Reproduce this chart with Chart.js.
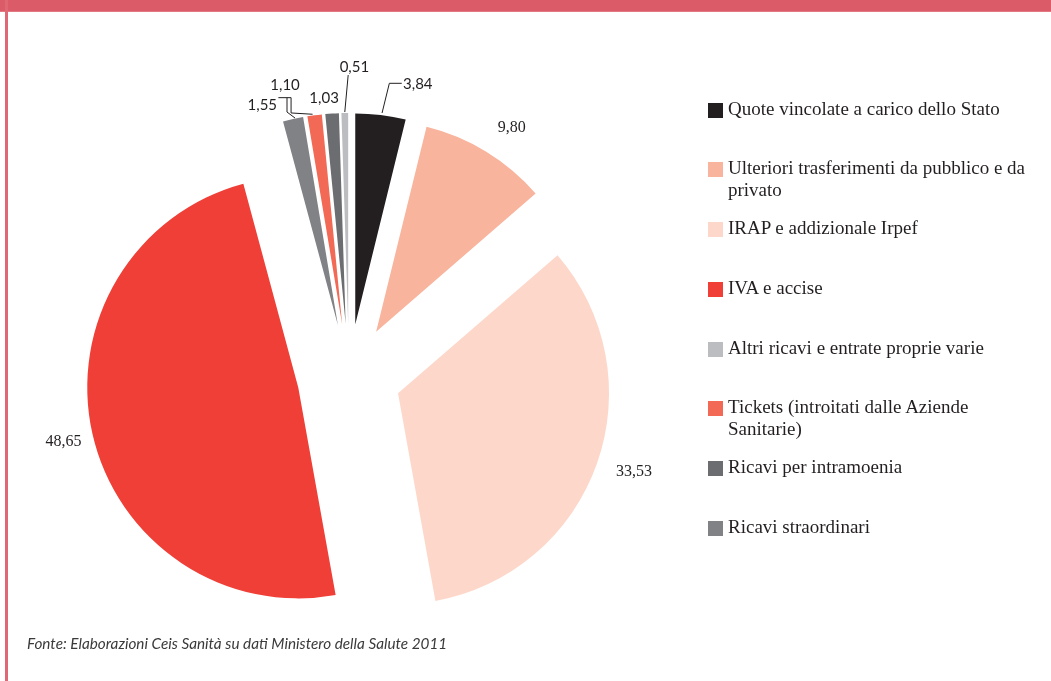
<!DOCTYPE html>
<html lang="it">
<head>
<meta charset="UTF-8">
<title>Composizione delle entrate</title>
<script src="https://cdn.jsdelivr.net/npm/chart.js@4.4.1/dist/chart.umd.min.js"></script>
<style>
    html, body {
        margin: 0;
        padding: 0;
        background: #ffffff;
    }
    #page {
        position: relative;
        width: 1051px;
        height: 681px;
        overflow: hidden;
        background: #ffffff;
    }
    #topBand {
        position: absolute;
        left: 0; top: 0;
        width: 1051px; height: 11px;
        background: #db5b69;
        border-bottom: 1px solid #e27882;
    }
    #leftLine {
        position: absolute;
        left: 5px; top: 0;
        width: 2.5px; height: 681px;
        background: #e06874;
    }
    #chartBox {
        position: absolute;
        left: 0; top: 0;
        width: 1051px; height: 681px;
    }
    #legend {
        position: absolute;
        left: 708px; top: 0;
        font-family: "Liberation Serif", "Times New Roman", serif;
        font-size: 19px;
        line-height: 22px;
        color: #231f20;
    }
    .item {
        position: absolute;
        left: 0;
        width: 330px;
    }
    .item .box {
        position: absolute;
        left: 0; top: 5.1px;
        width: 15px; height: 15px;
    }
    .item .txt {
        position: absolute;
        left: 20px; top: 0;
        width: 310px;
    }
    #source {
        position: absolute;
        left: 27px; top: 635px;
        font-family: Lato, "Open Sans", sans-serif;
        font-style: italic;
        font-size: 15.3px;
        line-height: 16px;
        color: #3a3a3a;
        white-space: nowrap;
    }
</style>
</head>
<body>
<div id="page">
    <div id="chartBox"><canvas id="pieChart"></canvas></div>
    <div id="topBand"></div>
    <div id="leftLine"></div>
    <div id="legend"></div>
    <div id="source">Fonte: Elaborazioni Ceis Sanità su dati Ministero della Salute 2011</div>
</div>

<script>
    // voci (ordine della legenda)
    var categories = [
        'Quote vincolate a carico dello Stato',
        'Ulteriori trasferimenti da pubblico e da privato',
        'IRAP e addizionale Irpef',
        'IVA e accise',
        'Altri ricavi e entrate proprie varie',
        'Tickets (introitati dalle Aziende Sanitarie)',
        'Ricavi per intramoenia',
        'Ricavi straordinari'
    ];
    // valori percentuali
    var values = [3.84, 9.80, 33.53, 48.65, 0.51, 1.10, 1.03, 1.55];
    // ordine delle fette in senso orario a partire dalle ore 12
    var sliceOrder = [0, 1, 2, 3, 7, 5, 6, 4];

    var colors = ['#231f20', '#f8b49c', '#fdd8ca', '#ef3f37', '#bcbdc0', '#f26a55', '#6c6d70', '#818285'];

    // stile delle etichette (spostamenti rispetto al bordo esterno della fetta)
    var labelStyle = [
        {sans: true, dx: 22.4, dy: -25.6, align: 'left', leader: [[1.4, -1.9], [8.7, -31.6], [21.1, -31.6]]},
        {sans: false, dx: 25.5, dy: -20, align: 'center'},
        {sans: false, dx: 37, dy: 12.4, align: 'center'},
        {sans: false, dx: -29, dy: 12.4, align: 'center'},
        {sans: true, dx: 9.6, dy: -41, align: 'center', leader: [[0, -1], [3.4, -38]]},
        {sans: true, dx: -29.5, dy: -25.3, align: 'center', leader: [[-2, -1], [-23.5, -2.3], [-23.5, -17.6], [-36.2, -17.6]]},
        {sans: true, dx: -8, dy: -10.8, align: 'center'},
        {sans: true, dx: -30.7, dy: -9, align: 'center', leader: [[2, -1], [-6, -7], [-6, -21.3]]}
    ];
    var EXPLODE = 52;

    function fmt(v) {
        return v.toFixed(2).replace('.', ',');
    }

    // legenda HTML
    var legendHtml = '';
    categories.forEach(function(name, i) {
        legendHtml += '<div class="item" style="top:' + (97.6 + i * 59.76) + 'px">' +
            '<div class="box" style="background:' + colors[i] + '"></div>' +
            '<div class="txt">' + name + '</div></div>';
    });
    document.getElementById('legend').innerHTML = legendHtml;

    var explodePlugin = {
        id: 'explode',
        beforeDatasetDraw: function(chart, args) {
            var ctx = chart.ctx;
            args.meta.data.forEach(function(arc) {
                var mid = (arc.startAngle + arc.endAngle) / 2;
                ctx.save();
                ctx.translate(Math.cos(mid) * EXPLODE, Math.sin(mid) * EXPLODE);
                arc.draw(ctx);
                ctx.restore();
            });
            return false;
        },
        afterDraw: function(chart) {
            var ctx = chart.ctx;
            var arcs = chart.getDatasetMeta(0).data;
            ctx.save();
            sliceOrder.forEach(function(cat, j) {
                var arc = arcs[j];
                var st = labelStyle[cat];
                var mid = (arc.startAngle + arc.endAngle) / 2;
                var ax = arc.x + Math.cos(mid) * (EXPLODE + arc.outerRadius);
                var ay = arc.y + Math.sin(mid) * (EXPLODE + arc.outerRadius);

                if (st.leader) {
                    ctx.beginPath();
                    ctx.strokeStyle = '#231f20';
                    ctx.lineWidth = 1;
                    st.leader.forEach(function(p, k) {
                        if (k === 0) ctx.moveTo(ax + p[0], ay + p[1]);
                        else ctx.lineTo(ax + p[0], ay + p[1]);
                    });
                    ctx.stroke();
                }

                ctx.fillStyle = '#231f20';
                ctx.textAlign = st.align;
                ctx.textBaseline = 'alphabetic';
                ctx.font = st.sans ? '15px Lato, "Open Sans", sans-serif' : '16px "Liberation Serif", "Times New Roman", serif';
                ctx.fillText(fmt(values[cat]), ax + st.dx, ay + st.dy);
            });
            ctx.restore();
        }
    };

    var ctx = document.getElementById('pieChart').getContext('2d');
    new Chart(ctx, {
        type: 'pie',
        data: {
            labels: sliceOrder.map(function(i) { return categories[i]; }),
            datasets: [{
                data: sliceOrder.map(function(i) { return values[i]; }),
                backgroundColor: sliceOrder.map(function(i) { return colors[i]; }),
                borderWidth: 0
            }]
        },
        options: {
            responsive: true,
            maintainAspectRatio: false,
            animation: false,
            radius: 211,
            rotation: 0,
            layout: {
                padding: {left: 0, right: 353, top: 71, bottom: 0}
            },
            plugins: {
                legend: {display: false},
                tooltip: {enabled: false}
            }
        },
        plugins: [explodePlugin]
    });
</script>
</body>
</html>
